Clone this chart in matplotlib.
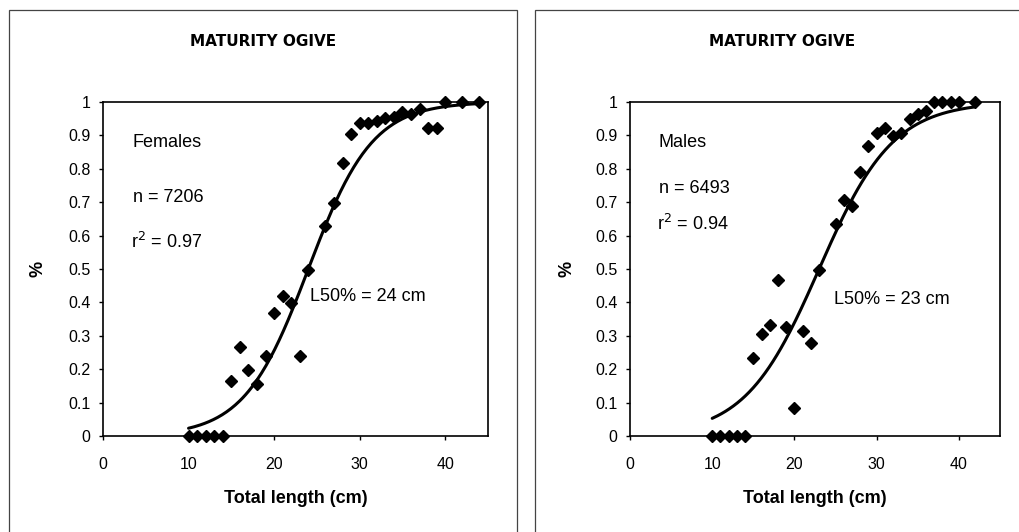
import numpy as np
import matplotlib
matplotlib.use("Agg")
import matplotlib.pyplot as plt
from matplotlib.patches import Rectangle
from matplotlib.ticker import FuncFormatter

plt.rcParams['font.family'] = ['Liberation Sans', 'DejaVu Sans']

# proportion mature by total length (cm)
fem_len = [10, 11, 12, 13, 14, 15, 16, 17, 18, 19, 20, 21, 22, 23, 24, 26, 27, 28,
           29, 30, 31, 32, 33, 34, 35, 36, 37, 38, 39, 40, 42, 44]
fem_mat = [0, 0, 0, 0, 0, 0.166, 0.266, 0.198, 0.156, 0.24, 0.368, 0.42, 0.398,
           0.24, 0.498, 0.63, 0.698, 0.816, 0.903, 0.936, 0.938, 0.943, 0.953,
           0.955, 0.97, 0.965, 0.98, 0.923, 0.923, 1, 1, 1]

male_len = [10, 11, 12, 13, 14, 15, 16, 17, 18, 19, 20, 21, 22, 23, 25, 26, 27,
            28, 29, 30, 31, 32, 33, 34, 35, 36, 37, 38, 39, 40, 42]
male_mat = [0, 0, 0, 0, 0, 0.233, 0.306, 0.333, 0.468, 0.325, 0.083, 0.313,
            0.278, 0.498, 0.636, 0.708, 0.688, 0.79, 0.868, 0.908, 0.923, 0.898,
            0.906, 0.948, 0.963, 0.973, 1, 1, 1, 1, 1]

# logistic fits: L50 and slope
fem_l50, fem_k, fem_n, fem_r2 = 24, 0.267, 7206, 0.97
male_l50, male_k, male_n, male_r2 = 23, 0.222, 6493, 0.94

W, H = 1020, 532
fig = plt.figure(figsize=(W / 100, H / 100), dpi=100)


def px(x0, y0, x1, y1):
    # pixel box (top-left origin) -> figure fraction rect
    return [x0 / W, 1 - y1 / H, (x1 - x0) / W, (y1 - y0) / H]


def panel(rect, lens, mat, l50, k, n, r2, sex, xmax_fit, lab_pos, ylab_x):
    ax = fig.add_axes(rect)
    xs = np.linspace(10, xmax_fit, 200)
    ax.plot(xs, 1 / (1 + np.exp(-k * (xs - l50))), color='black', lw=2.2,
            solid_capstyle='round', zorder=2)
    ax.plot(lens, mat, 'D', color='black', ms=6.4, clip_on=False, zorder=3)
    ax.set_xlim(0, 45)
    ax.set_ylim(0, 1)
    ax.set_xticks([0, 10, 20, 30, 40])
    ax.set_yticks(np.arange(0, 1.01, 0.1))
    ax.yaxis.set_major_formatter(FuncFormatter(lambda v, p: '{:g}'.format(round(v, 1))))
    ax.tick_params(direction='out', length=3, width=1, labelsize=11.5, pad=6)
    ax.tick_params(axis='x', pad=12)
    for s in ax.spines.values():
        s.set_linewidth(1.2)
    ax.set_xlabel('Total length (cm)', fontsize=13, fontweight='bold', labelpad=13)
    ax.set_ylabel('%', fontsize=13, fontweight='bold')
    ax.yaxis.set_label_coords(ylab_x, 0.5)
    ax.text(3.5, 0.88, sex, fontsize=13, va='center')
    ax.text(3.5, 0.74 if sex == 'Males' else 0.715, 'n = %d' % n, fontsize=13, va='center')
    ax.text(3.3, 0.635 if sex == 'Males' else 0.58, 'r$^2$ = %.2f' % r2, fontsize=13, va='center')
    ax.text(lab_pos[0], lab_pos[1], 'L50%% = %d cm' % l50, fontsize=13, va='center')
    return ax


panel(px(103, 102, 488, 436), fem_len, fem_mat, fem_l50, fem_k, fem_n, fem_r2,
      'Females', 44, (24.2, 0.417), (46 - 103) / 385)
panel(px(630, 102, 1000, 436), male_len, male_mat, male_l50, male_k, male_n, male_r2,
      'Males', 42, (24.8, 0.41), (576 - 630) / 370)

# chart frames
for x0, x1 in [(9, 517), (535, 1030)]:
    fig.add_artist(Rectangle((x0 / W, -0.05), (x1 - x0) / W, 1 - 10 / H + 0.05,
                             transform=fig.transFigure, fill=False,
                             edgecolor='#444444', lw=0.9))

for cx in [263, 782]:
    fig.text(cx / W, 1 - 41 / H, 'MATURITY OGIVE', ha='center', va='center',
             fontsize=11, fontweight='bold', family='DejaVu Sans')

fig.savefig('out.png', dpi=100)
